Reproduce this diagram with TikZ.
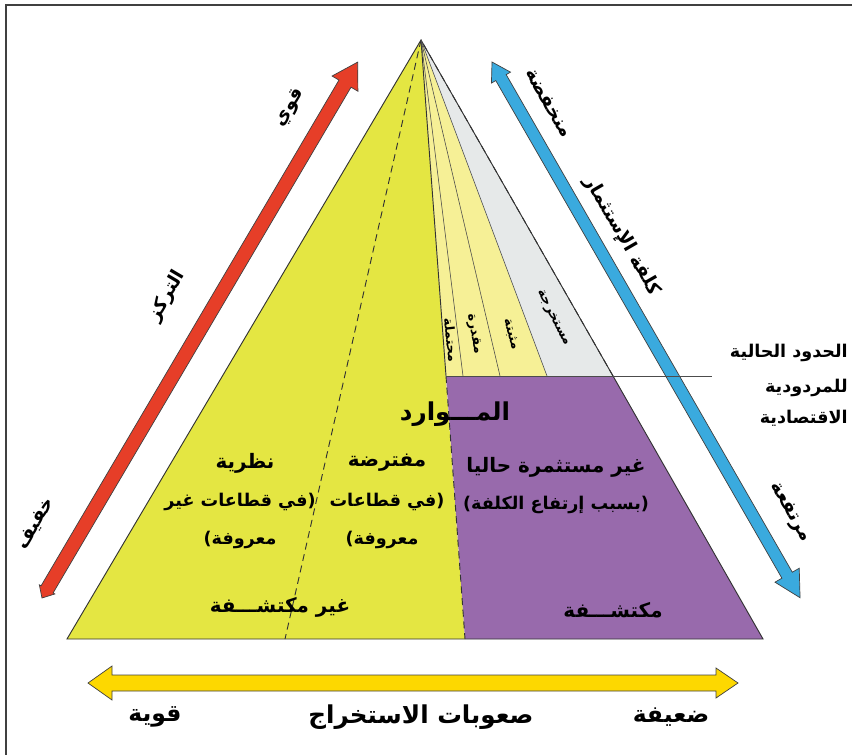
\documentclass[tikz,border=0pt]{standalone}
\usepackage{fontspec}
\usepackage{tikz}
\usetikzlibrary{calc}
\newfontfamily\arabicfont[Script=Arabic]{DejaVu Sans}
\TeXXeTstate=1
\newcommand{\rtl}[1]{\beginR #1\endR}

\definecolor{pyryellow}{RGB}{228,230,66}
\definecolor{paleyellow}{RGB}{246,240,150}
\definecolor{palegray}{RGB}{230,233,233}
\definecolor{pyrpurple}{RGB}{152,106,172}
\definecolor{arrred}{RGB}{230,62,40}
\definecolor{arrblue}{RGB}{58,170,222}
\definecolor{arryellow}{RGB}{253,216,0}

\begin{document}
\begin{tikzpicture}[x=0.03cm, y=-0.03cm,
  bodytxt/.style={font=\arabicfont\bfseries\fontsize{17}{19}\selectfont, inner sep=0pt},
  parentxt/.style={font=\arabicfont\bfseries\fontsize{15}{17}\selectfont, inner sep=0pt},
  bigtxt/.style={font=\arabicfont\bfseries\fontsize{21}{23}\selectfont, inner sep=0pt},
  sidetxt/.style={font=\arabicfont\bfseries\fontsize{15}{17}\selectfont, inner sep=0pt},
  axistxt/.style={font=\arabicfont\bfseries\fontsize{16}{18}\selectfont, inner sep=0pt},
  bottomtxt/.style={font=\arabicfont\bfseries\fontsize{20}{22}\selectfont, inner sep=0pt},
  sectortxt/.style={font=\arabicfont\bfseries\fontsize{11}{13}\selectfont, inner sep=0pt},
  rim/.style={draw=black!80, line width=0.8pt},
  thinrim/.style={draw=black!70, line width=0.5pt},
  cut/.style={dash pattern=on 6pt off 4pt},
  arrowline/.style={draw=black!75, line width=0.6pt}]
\useasboundingbox (0,0) rectangle (852,755);
\draw[line width=1.6pt, black!75] (852,5) -- (6,5) -- (6,755);

% pyramid corners
\coordinate (apex) at (421,40);
\coordinate (bl) at (67,639);
\coordinate (br) at (763,639);
\coordinate (dbot) at (285,639);
\coordinate (pbot) at (465,639);
\coordinate (ptl) at (446,376);
\coordinate (s2) at (463,376);
\coordinate (s3) at (500,376);
\coordinate (s4) at (547,376);
\coordinate (ptr) at (613,376);
\coordinate (limit) at (712,376);

\fill[pyryellow] (apex) -- (bl) -- (pbot) -- cycle;
\fill[pyrpurple] (ptl) -- (ptr) -- (br) -- (pbot) -- cycle;
\fill[paleyellow] (apex) -- (ptl) -- (s4) -- cycle;
\fill[palegray] (apex) -- (s4) -- (ptr) -- cycle;

\draw[rim] (ptr) -- (apex) -- (bl) -- (br) -- (ptr);
\draw[rim, cut] (ptr) -- (apex);
\draw[rim] (apex) -- (ptl);
\draw[rim, cut] (ptl) -- (pbot);
\draw[rim, cut] (apex) -- (dbot);
\draw[thinrim] (apex) -- (s2);
\draw[thinrim] (apex) -- (s3);
\draw[thinrim] (apex) -- (s4);

% arrows
\begin{scope}[shift={(42,598)}, rotate=59.5]
\draw[arrowline, fill=arrred] (0,0) -- (10,-9) -- (10,-7) -- (597,-7) -- (597,-15)
  -- (622,0) -- (597,15) -- (597,7) -- (10,7) -- (10,9) -- cycle;
\end{scope}
\begin{scope}[shift={(492,62)}, rotate=-60.1]
\draw[arrowline, fill=arrblue] (0,0) -- (18,-11) -- (18,-6) -- (592,-6) -- (592,-14)
  -- (618,0) -- (592,14) -- (592,6) -- (18,6) -- (18,11) -- cycle;
\end{scope}
\draw[arrowline, fill=arryellow] (88,683) -- (112,666) -- (112,675) -- (716,675) -- (716,668)
  -- (738,683) -- (716,698) -- (716,691) -- (112,691) -- (112,700) -- cycle;
\draw[thinrim] (ptl) -- (limit);

% labels inside the pyramid
\node[bigtxt] (mawarid) at (455,414) {\rtl{المـــوارد}};
\node[bodytxt] (ghayrmust) at (556,467) {\rtl{غير مستثمرة حاليا}};
\node[parentxt] (sabab) at (556,505) {\rtl{(بسبب إرتفاع الكلفة)}};
\node[bodytxt] (nazaria) at (245,463) {\rtl{نظرية}};
\node[parentxt] (fiqita1) at (240,502) {\rtl{(في قطاعات غير}};
\node[parentxt] (maaruf1) at (240,540) {\rtl{معروفة)}};
\node[bodytxt] (muftarada) at (387,463) {\rtl{مفترضة}};
\node[parentxt] (fiqita2) at (387,502) {\rtl{(في قطاعات}};
\node[parentxt] (maaruf2) at (382,540) {\rtl{معروفة)}};
\node[bodytxt] (ghayrmukt) at (280,607) {\rtl{غير مكتشـــفة}};
\node[bodytxt] (muktashafa) at (613,610) {\rtl{مكتشـــفة}};
\node[sectortxt, rotate=-84] (muhtamala) at (451,340) {\rtl{محتملة}};
\node[sectortxt, rotate=-80] (muqaddara) at (474,334) {\rtl{مقدرة}};
\node[sectortxt, rotate=-75] (muthbata) at (511,334) {\rtl{مثبتة}};
\node[sectortxt, rotate=-63] (mustakhraja) at (553,318) {\rtl{مستخرجة}};

% labels outside
\node[sidetxt, anchor=east] (hudud) at (848,353) {\rtl{الحدود الحالية}};
\node[sidetxt, anchor=east] (mardudia) at (848,388) {\rtl{للمردودية}};
\node[sidetxt, anchor=east] (iqtisadia) at (848,418) {\rtl{الاقتصادية}};
\node[axistxt, rotate=59.5] (qawi) at (290,108) {\rtl{قوي}};
\node[axistxt, rotate=59.5] (tarakkuz) at (167,296) {\rtl{التركز}};
\node[axistxt, rotate=59.5] (khafif) at (36,524) {\rtl{خفيف}};
\node[axistxt, rotate=-60] (munkhafida) at (549,103) {\rtl{منخفضة}};
\node[axistxt, rotate=-60] (kulfa) at (622,236) {\rtl{كلفة الإستثمار}};
\node[axistxt, rotate=-60] (murtafia) at (790,512) {\rtl{مرتفعة}};
\node[bottomtxt] (qawia) at (155,717) {\rtl{قوية}};
\node[bottomtxt, font=\arabicfont\bfseries\fontsize{21}{23}\selectfont] (suubat) at (421,717) {\rtl{صعوبات الاستخراج}};
\node[bottomtxt] (daifa) at (671,717) {\rtl{ضعيفة}};
\end{tikzpicture}
\end{document}
